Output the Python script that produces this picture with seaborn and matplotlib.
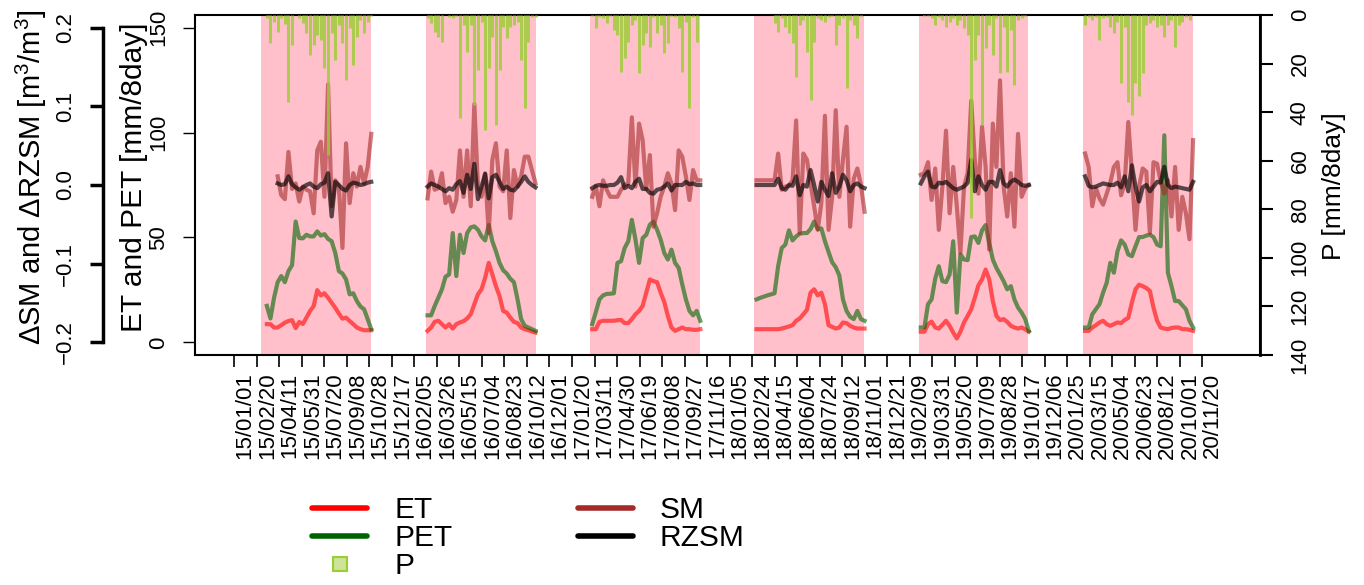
import numpy as np
import pandas as pd
import matplotlib
matplotlib.use("Agg")
import matplotlib.pyplot as plt
from matplotlib.lines import Line2D
from matplotlib.ticker import FuncFormatter
import seaborn as sns

plt.rcParams["font.family"] = ["Liberation Sans", "DejaVu Sans"]
plt.rcParams["mathtext.fontset"] = "custom"
plt.rcParams["mathtext.rm"] = "Liberation Sans"
plt.rcParams["mathtext.default"] = "regular"

nan = np.nan

# 8-day composites (MODIS day of year), growing season of each year
years = [2015, 2016, 2017, 2018, 2019, 2020]
composite_doy = list(range(65, 306, 8))

# ET [mm/8day]
et_2015 = [nan, 8.7, 8.7, 7.1, 7.1, 8.2, 9.4, 10.2, 10.6, 6.8, 9.7, 8.8, 11.8, 15.0, 17.3, 24.9, 22.4, 23.4, 21.3, 18.9, 16.5, 13.8, 11.3, 11.8, 10.2, 8.7, 7.1, 6.3, 5.8, 5.8, 5.8]
et_2016 = [5.5, 7.1, 9.8, 10.3, 8.7, 7.1, 8.7, 6.6, 8.7, 9.5, 10.1, 11.4, 13.4, 18.2, 22.9, 25.3, 30.8, 37.9, 32.4, 26.8, 22.1, 15.0, 14.2, 11.8, 9.8, 9.2, 7.1, 6.3, 5.8, 5.2, 4.7]
et_2017 = [6.3, 6.3, 9.8, 10.3, 10.3, 10.3, 10.3, 10.6, 10.7, 9.2, 9.2, 11.1, 13.4, 15.0, 17.4, 23.7, 30.0, 29.2, 28.7, 23.7, 19.3, 12.6, 7.1, 5.5, 6.3, 7.1, 6.3, 6.3, 6.0, 6.0, 6.3]
et_2018 = [6.3, 6.3, 6.3, 6.3, 6.3, 6.3, 6.3, 6.6, 7.1, 7.6, 8.2, 10.3, 11.4, 13.4, 15.5, 23.7, 25.3, 22.4, 23.7, 18.2, 8.2, 7.4, 6.6, 7.1, 9.5, 9.2, 7.9, 7.1, 6.6, 6.6, 6.6]
et_2019 = [5.1, 5.1, 8.7, 9.9, 7.1, 6.6, 8.4, 10.3, 7.9, 4.7, 1.9, 5.1, 9.5, 12.6, 15.8, 21.3, 27.2, 30.0, 34.7, 30.0, 19.7, 12.6, 10.6, 11.1, 9.8, 7.9, 7.1, 6.6, 7.1, 6.3, 5.1]
et_2020 = [5.5, 5.5, 7.1, 8.2, 9.5, 10.3, 8.7, 7.9, 8.7, 9.5, 9.2, 10.7, 11.7, 19.0, 25.3, 27.5, 26.8, 25.9, 24.5, 16.6, 10.3, 7.1, 6.6, 6.3, 6.9, 7.1, 7.1, 6.3, 6.3, 6.0, 5.5]

# PET [mm/8day]
pet_2015 = [nan, 17.4, 11.4, 21.3, 28.7, 31.6, 28.7, 34.0, 36.8, 57.6, 49.7, 49.6, 51.3, 50.5, 50.5, 52.9, 50.9, 51.6, 49.3, 48.2, 42.6, 34.0, 32.8, 30.0, 22.9, 23.4, 19.7, 17.1, 15.8, 11.1, 6.3]
pet_2016 = [12.9, 12.9, 17.4, 21.3, 25.3, 31.3, 32.4, 52.1, 31.6, 51.3, 42.6, 52.1, 54.8, 55.3, 53.7, 50.5, 48.6, 56.0, 48.2, 43.4, 37.9, 34.4, 32.8, 30.3, 28.7, 20.5, 11.1, 7.9, 7.1, 6.3, 5.5]
pet_2017 = [8.7, 14.5, 20.5, 22.4, 23.1, 23.2, 23.4, 37.9, 38.7, 45.0, 48.2, 58.4, 49.0, 37.9, 49.7, 51.3, 56.1, 57.6, 53.7, 49.0, 42.6, 39.5, 44.2, 37.9, 35.5, 27.6, 20.5, 15.0, 12.9, 15.0, 10.3]
pet_2018 = [20.5, 21.2, 21.8, 22.4, 22.9, 23.4, 36.3, 45.0, 46.6, 53.4, 48.6, 50.5, 51.8, 52.1, 52.1, 54.0, 57.6, 54.0, 54.3, 48.2, 43.1, 38.2, 35.8, 31.9, 20.5, 15.0, 12.2, 11.1, 15.0, 11.1, 10.3]
pet_2019 = [7.1, 7.1, 18.2, 20.5, 30.3, 36.3, 29.2, 28.7, 32.4, 48.2, 14.2, 41.9, 39.5, 39.2, 50.2, 50.5, 47.4, 53.4, 55.9, 47.4, 39.5, 35.5, 32.4, 29.2, 25.3, 26.8, 20.5, 16.6, 14.2, 11.1, 5.5]
pet_2020 = [7.1, 7.1, 13.4, 15.8, 18.2, 23.7, 28.4, 37.9, 33.2, 43.4, 48.6, 46.6, 41.9, 41.1, 45.8, 50.2, 50.2, 50.9, 51.3, 50.2, 46.6, 45.8, 98.7, 33.2, 26.8, 19.7, 19.7, 17.7, 15.8, 10.3, 7.1]

# delta SM [m3/m3]
sm_2015 = [nan, nan, nan, nan, 0.011, -0.013, -0.018, 0.042, -0.005, 0.002, -0.021, -0.002, -0.006, -0.008, -0.036, 0.044, 0.055, -0.015, 0.128, -0.027, 0.006, -0.002, -0.080, 0.053, -0.023, 0.015, -0.002, 0.023, 0.002, 0.023, 0.065]
sm_2016 = [-0.017, 0.017, -0.006, -0.004, 0.015, -0.023, -0.015, -0.034, -0.019, 0.044, -0.015, 0.044, -0.027, 0.103, -0.002, -0.015, 0.015, -0.061, 0.032, 0.053, -0.002, -0.008, 0.044, -0.042, 0.019, -0.002, 0.011, 0.036, 0.036, 0.019, 0.002]
sm_2017 = [-0.015, -0.002, -0.027, 0.006, -0.006, -0.015, -0.015, -0.015, -0.006, 0.0, 0.002, 0.086, -0.002, 0.078, 0.057, -0.005, 0.038, -0.053, -0.036, -0.015, -0.002, 0.015, 0.002, -0.032, 0.044, 0.036, 0.011, -0.019, 0.019, 0.006, 0.006]
sm_2018 = [0.006, 0.006, 0.006, 0.006, 0.006, 0.006, 0.040, -0.006, -0.002, -0.001, 0.006, 0.082, -0.061, 0.040, 0.032, 0.002, -0.027, -0.057, -0.023, 0.088, -0.057, -0.015, 0.095, -0.015, 0.032, 0.074, -0.053, 0.008, 0.021, 0.0, -0.034]
sm_2019 = [0.013, 0.015, 0.029, -0.019, 0.021, -0.057, -0.002, 0.069, -0.036, 0.023, -0.027, -0.086, -0.002, 0.015, 0.107, 0.032, -0.011, 0.074, 0.023, -0.082, 0.078, 0.023, 0.133, -0.002, -0.040, 0.015, -0.053, 0.065, -0.015, -0.004, 0.0]
sm_2020 = [0.040, 0.023, -0.027, -0.004, -0.017, -0.025, -0.011, 0.003, 0.023, 0.029, -0.013, 0.002, 0.080, 0.015, -0.057, -0.002, 0.021, 0.017, -0.061, 0.029, 0.027, 0.004, -0.011, 0.006, -0.040, 0.023, -0.057, -0.015, -0.036, -0.069, 0.057]

# delta RZSM [m3/m3]
rz_2015 = [nan, nan, nan, nan, 0.002, 0.0, 0.001, 0.011, 0.001, -0.003, -0.006, -0.003, 0.0, 0.002, -0.002, -0.004, 0.001, 0.003, 0.015, -0.040, 0.004, 0.0, -0.005, -0.007, 0.0, 0.003, 0.002, 0.0, 0.001, 0.003, 0.004]
rz_2016 = [-0.002, 0.002, 0.0, -0.002, -0.005, -0.008, -0.004, -0.006, 0.001, 0.005, -0.010, 0.013, -0.005, 0.027, -0.018, -0.002, 0.014, -0.017, 0.010, 0.013, 0.004, -0.005, -0.002, -0.006, -0.007, -0.002, 0.004, 0.011, 0.004, 0.0, -0.003]
rz_2017 = [-0.004, -0.001, 0.0, -0.001, -0.001, 0.0, 0.0, 0.003, 0.010, -0.004, -0.001, -0.004, 0.004, 0.008, -0.005, -0.005, -0.010, -0.011, -0.006, -0.005, -0.002, 0.002, -0.007, 0.0, 0.0, 0.0, 0.004, 0.001, 0.002, 0.0, 0.0]
rz_2018 = [0.0, 0.0, 0.0, 0.0, 0.0, 0.0, 0.008, -0.004, -0.006, 0.0, -0.001, 0.011, -0.013, 0.0, -0.002, 0.019, 0.0, -0.021, 0.004, -0.006, -0.014, 0.015, -0.010, -0.002, 0.013, 0.006, -0.008, 0.0, 0.002, -0.002, -0.004]
rz_2019 = [0.002, 0.011, 0.017, -0.002, -0.003, 0.003, 0.002, 0.004, 0.0, -0.004, -0.006, -0.004, -0.002, 0.003, 0.032, -0.008, 0.011, 0.0, -0.006, 0.004, 0.004, -0.002, 0.019, 0.002, -0.002, 0.004, 0.007, 0.004, 0.0, -0.001, 0.0]
rz_2020 = [0.011, -0.001, -0.003, -0.002, 0.0, 0.002, 0.001, 0.0, 0.0, 0.003, -0.003, 0.011, -0.008, 0.025, -0.002, -0.021, -0.003, 0.0, -0.008, -0.002, 0.004, 0.003, 0.023, 0.0, -0.004, -0.002, -0.003, -0.004, -0.005, -0.006, 0.004]

# P [mm/8day]
p_2015 = [0.0, 1.4, 11.7, 2.7, 6.9, 1.4, 3.7, 35.7, 12.4, 0.0, 1.4, 3.4, 7.5, 16.5, 12.4, 8.2, 10.3, 22.0, 57.6, 7.5, 18.5, 4.1, 11.7, 26.8, 5.5, 20.6, 8.9, 2.1, 7.5, 2.7, 0.5]
p_2016 = [1.4, 3.4, 6.9, 8.9, 11.0, 0.0, 0.7, 1.4, 0.4, 42.5, 4.1, 15.1, 4.1, 37.1, 22.6, 2.7, 47.4, 22.0, 8.9, 45.3, 22.6, 4.8, 9.6, 4.8, 4.1, 2.7, 18.5, 38.4, 11.0, 0.7, 0.7]
p_2017 = [0.5, 5.5, 0.7, 1.4, 3.4, 0.4, 6.2, 8.2, 23.3, 17.8, 11.0, 4.1, 2.1, 24.0, 12.4, 7.5, 13.0, 0.7, 7.5, 4.1, 15.8, 11.7, 0.4, 0.7, 5.5, 23.3, 2.7, 38.4, 0.7, 11.0, 0.0]
p_2018 = [0.0, 0.0, 0.0, 0.0, 0.0, 3.4, 6.9, 1.4, 4.8, 7.5, 11.7, 25.4, 4.1, 2.1, 15.1, 35.0, 11.0, 1.4, 2.1, 2.7, 0.7, 0.4, 12.4, 4.1, 1.4, 30.2, 2.1, 4.1, 9.6, 0.5, 0.0]
p_2019 = [0.0, 0.5, 0.3, 1.4, 4.1, 0.7, 2.1, 4.8, 2.7, 1.4, 4.1, 2.1, 5.5, 8.2, 83.7, 18.5, 8.2, 45.3, 13.7, 4.1, 16.5, 1.4, 24.0, 4.8, 23.3, 6.2, 28.8, 2.1, 1.4, 0.5, 0.0]
p_2020 = [4.1, 0.7, 2.1, 0.7, 10.3, 1.4, 0.7, 4.8, 7.5, 2.7, 27.9, 4.8, 35.7, 41.2, 28.1, 33.4, 24.0, 4.1, 3.4, 2.1, 4.8, 4.1, 8.9, 4.1, 2.1, 13.0, 4.1, 2.7, 0.7, 2.1, 0.0]

et = [et_2015, et_2016, et_2017, et_2018, et_2019, et_2020]
pet = [pet_2015, pet_2016, pet_2017, pet_2018, pet_2019, pet_2020]
sm = [sm_2015, sm_2016, sm_2017, sm_2018, sm_2019, sm_2020]
rz = [rz_2015, rz_2016, rz_2017, rz_2018, rz_2019, rz_2020]
prcp = [p_2015, p_2016, p_2017, p_2018, p_2019, p_2020]

frames = []
for i, yr in enumerate(years):
    dates = pd.Timestamp(f"{yr}-01-01") + pd.to_timedelta(np.array(composite_doy) - 1, unit="D")
    frames.append(pd.DataFrame({"date": dates, "year": yr, "ET": et[i], "PET": pet[i],
                                "SM": sm[i], "RZSM": rz[i], "P": prcp[i]}))
df = pd.concat(frames, ignore_index=True)

fig = plt.figure(figsize=(13.64, 5.85), dpi=100)
ax = fig.add_axes([195 / 1364, 230 / 585, 1065 / 1364, 340 / 585])

# growing season shading (Mar - Oct)
for yr in years:
    ax.axvspan(pd.Timestamp(f"{yr}-03-01"), pd.Timestamp(f"{yr}-10-31"), color="pink", lw=0, zorder=0)

sns.lineplot(data=df, x="date", y="ET", units="year", estimator=None, color="red",
             alpha=0.6, lw=3, ax=ax, legend=False)
sns.lineplot(data=df, x="date", y="PET", units="year", estimator=None, color="darkgreen",
             alpha=0.6, lw=3, ax=ax, legend=False)

ax_sm = ax.twinx()
sns.lineplot(data=df, x="date", y="SM", units="year", estimator=None, color="brown",
             alpha=0.6, lw=3, ax=ax_sm, legend=False)
sns.lineplot(data=df, x="date", y="RZSM", units="year", estimator=None, color="black",
             alpha=0.65, lw=3, ax=ax_sm, legend=False)

ax_p = ax.twinx()
ax_p.vlines(df["date"], 0, df["P"], colors="yellowgreen", alpha=0.8, lw=2.2)

# x axis: every 50 days
t0, t1 = pd.Timestamp("2015-01-01"), pd.Timestamp("2020-12-31")
pad = (t1 - t0) * 0.04
ax.set_xlim(t0 - pad, t1 + pad)
xt = pd.date_range("2015-01-01", "2020-12-31", freq="50D")
ax.set_xticks(xt)
ax.set_xticklabels(xt.strftime("%y/%m/%d"), rotation=90, ha="left")
ax.tick_params(axis="x", length=8.6, width=1.2, labelsize=16, pad=4)
ax.set_xlabel("")

# ET / PET axis
ax.set_ylim(-6, 156)
ax.set_yticks([0, 50, 100, 150])
ax.tick_params(axis="y", length=8.6, width=1, labelsize=16, pad=10, labelrotation=90)
plt.setp(ax.get_yticklabels(), va="center")
ax.set_ylabel("ET and PET [mm/8day]", fontsize=21.5)
ax.yaxis.set_label_coords(-0.0437, 0.5235)
for s in ax.spines.values():
    s.set_linewidth(1.5)
    s.set_color("black")

# delta SM axis, offset to the left
ax_sm.set_ylim(-0.216, 0.216)
ax_sm.yaxis.set_ticks_position("left")
ax_sm.yaxis.set_label_position("left")
ax_sm.set_yticks([-0.2, -0.1, 0.0, 0.1, 0.2])
ax_sm.yaxis.set_major_formatter(FuncFormatter(lambda v, _: f"{v:.1f}".replace("-", "\u2212")))
for side in ["right", "top", "bottom"]:
    ax_sm.spines[side].set_visible(False)
ax_sm.spines["left"].set_position(("outward", 66.2))
ax_sm.spines["left"].set_bounds(-0.2, 0.2)
ax_sm.spines["left"].set_linewidth(2.5)
ax_sm.tick_params(axis="y", length=9.4, width=2.5, labelsize=16, pad=10, labelrotation=90)
plt.setp(ax_sm.get_yticklabels(), va="center")
ax_sm.set_ylabel("\u0394SM and \u0394RZSM [m$^{3}$/m$^{3}$]", fontsize=21)
ax_sm.yaxis.set_label_coords(-0.137, 0.5235)

# precipitation axis, reversed on the right
ax_p.set_ylim(140, 0)
ax_p.set_yticks(np.arange(0, 141, 20))
for side in ["left", "top", "bottom"]:
    ax_p.spines[side].set_visible(False)
ax_p.spines["right"].set_linewidth(2)
ax_p.tick_params(axis="y", length=9.4, width=1.5, labelsize=16, pad=12, labelrotation=90)
plt.setp(ax_p.get_yticklabels(), va="center")
ax_p.set_ylabel("P [mm/8day]", fontsize=19)
ax_p.yaxis.set_label_coords(1.0582, 0.497)

handles = [
    Line2D([], [], color="red", lw=4, solid_capstyle="round"),
    Line2D([], [], color="darkgreen", lw=4, solid_capstyle="round"),
    Line2D([], [], ls="none", marker="s", ms=9.4, mfc=(0.604, 0.804, 0.196, 0.5),
           mec="yellowgreen", mew=1.5),
    Line2D([], [], color="brown", lw=4, solid_capstyle="round"),
    Line2D([], [], color="black", lw=4, solid_capstyle="round"),
]
fig.legend(handles, ["ET", "PET", "P", "SM", "RZSM"], loc="upper left",
           bbox_to_anchor=(312 / 1364, 1 - 496 / 585), ncol=2, frameon=False, fontsize=21.5,
           handlelength=1.85, handletextpad=0.9, columnspacing=4.2, labelspacing=0.0,
           borderpad=0, borderaxespad=0)

fig.savefig("out.png", dpi=100)
